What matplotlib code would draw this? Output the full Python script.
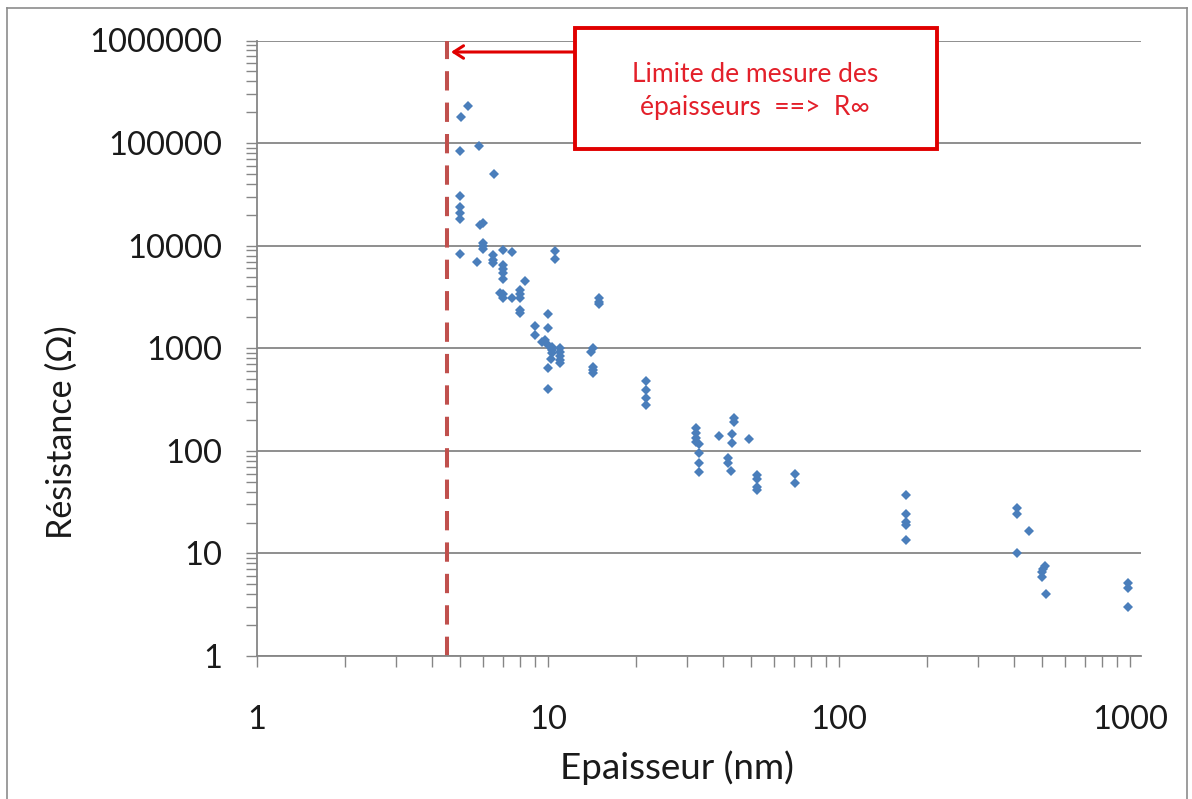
import matplotlib
matplotlib.use("Agg")
import matplotlib.pyplot as plt
from matplotlib.patches import Rectangle
from matplotlib.lines import Line2D
from matplotlib.ticker import NullFormatter, LogLocator

plt.rcParams['font.family'] = ['Lato', 'DejaVu Sans']

# Data: thickness (nm) vs resistance (Ohm)
epaisseur = [5.32, 5.01, 5.8, 5.0, 6.5, 5.0, 5.0, 5.0, 5.0, 5.83, 5.98, 5.98, 5.98, 5.98,
             5.0, 5.69, 6.49, 6.49, 6.49, 7.02, 7.5, 7.02, 7.02, 7.02, 7.02, 8.34, 6.84,
             7.02, 7.02, 7.5, 8.01, 8.01, 8.01, 8.01, 8.01, 10.6, 10.6, 9.02, 9.02, 10.0,
             10.0, 9.5, 9.77, 10.0, 10.3, 10.3, 10.3, 10.2, 10.0, 10.0, 11.0, 11.0, 11.0,
             11.0, 11.0, 14.3, 14.0, 14.3, 14.3, 14.3, 15.0, 15.0, 15.0, 21.8, 21.8, 21.8,
             21.8, 32.2, 32.2, 32.2, 32.2, 33.0, 33.0, 33.0, 33.0, 38.7, 42.8, 42.8, 43.5,
             43.5, 41.5, 41.5, 42.5, 49.2, 52.4, 52.4, 52.4, 52.4, 70.6, 70.6, 169.5, 169.5,
             169.5, 169.5, 169.5, 410, 410, 450, 410, 510, 503, 497, 497, 513, 986, 986, 986]
resistance = [229000, 178000, 93600, 83000, 50000, 30400, 23800, 21000, 18000, 15900, 16700,
              10700, 9900, 9200, 8280, 6870, 8090, 7240, 6720, 9060, 8700, 6460, 5870, 5450,
              4720, 4550, 3480, 3350, 3100, 3100, 3690, 3375, 3060, 2360, 2220, 8900, 7400,
              1660, 1345, 2140, 1590, 1157, 1200, 1075, 1035, 960, 890, 780, 637, 398, 997,
              925, 840, 767, 713, 997, 925, 660, 613, 569, 3060, 2840, 2700, 479, 391, 325,
              280, 166, 148, 134, 123, 116, 94.6, 75.5, 62.5, 140, 145, 118, 207, 192, 85,
              76, 63.6, 130, 58, 52.7, 44, 41.5, 59, 49, 37, 24.2, 20.4, 18.9, 13.5, 27.5,
              24.0, 16.5, 10.0, 7.5, 7.1, 6.6, 5.9, 4.0, 5.1, 4.6, 3.0]

limite_x = 4.5
x_ticks = [1, 10, 100, 1000]
x_ticklabels = ['1', '10', '100', '1000']
y_ticks = [1, 10, 100, 1000, 10000, 100000, 1000000]
y_ticklabels = ['1', '10', '100', '1000', '10000', '100000', '1000000']
annotation_text = "Limite de mesure des\népaisseurs  ==>  R\u221e"
xlabel = "Epaisseur (nm)"
ylabel = "Résistance (Ω)"

W, H = 1192, 799
fig = plt.figure(figsize=(W / 100, H / 100), dpi=100)
fig.patch.set_facecolor('white')

def fx(px):
    return px / W

def fy(py):
    return 1 - py / H

ax = fig.add_axes([fx(257), fy(656), fx(1141) - fx(257), fy(40.5) - fy(656)])
ax.set_xscale('log')
ax.set_yscale('log')
ax.set_xlim(1, 1091)
ax.set_ylim(1, 1e6)

grey = '#868686'
ax.set_xticks(x_ticks)
ax.set_xticklabels(x_ticklabels)
ax.set_yticks(y_ticks)
ax.set_yticklabels(y_ticklabels)
ax.xaxis.set_minor_locator(LogLocator(base=10, subs=range(2, 10), numticks=20))
ax.yaxis.set_minor_locator(LogLocator(base=10, subs=range(2, 10), numticks=20))
ax.xaxis.set_minor_formatter(NullFormatter())
ax.yaxis.set_minor_formatter(NullFormatter())

ax.yaxis.grid(True, which='major', color=grey, lw=1.3)
ax.set_axisbelow(True)
for s in ['top', 'right']:
    ax.spines[s].set_visible(False)
for s in ['left', 'bottom']:
    ax.spines[s].set_color(grey)
    ax.spines[s].set_linewidth(1.3)

ax.tick_params(axis='both', which='both', direction='out', length=8, width=1,
               color=grey, labelcolor='#1a1a1a', labelsize=23.5)
ax.tick_params(axis='y', which='both', pad=17)
ax.tick_params(axis='x', which='both', pad=27)

ax.plot(epaisseur, resistance, linestyle='none', marker='D', markersize=4.8,
        color='#4A7EBB', markeredgewidth=0, zorder=3)

ax.axvline(limite_x, color='#C0504D', lw=2.9, dashes=(4.8, 3.0), zorder=2)

# axis titles
fig.text(fx(677), fy(768), xlabel, ha='center', va='center', fontsize=26.5, color='#1a1a1a')
fig.text(fx(62), fy(432), ylabel, ha='center', va='center', rotation=90,
         fontsize=24.5, color='#1a1a1a')

# annotation box
box = Rectangle((fx(575), fy(149)), fx(937) - fx(575), fy(28) - fy(149),
                transform=fig.transFigure, fill=True, facecolor='white',
                edgecolor='#E00000', lw=2.8, zorder=5)
fig.add_artist(box)
fig.text(fx(755), fy(91), annotation_text, ha='center', va='center', fontsize=19,
         color='#E3202A', linespacing=1.45, zorder=6)

# arrow
ax.annotate('', xy=(fx(451), fy(52)), xytext=(fx(575), fy(52)),
            xycoords='figure fraction', textcoords='figure fraction',
            arrowprops=dict(arrowstyle='->,head_length=0.7,head_width=0.45',
                            color='#E00000', lw=2.2, shrinkA=0, shrinkB=0),
            annotation_clip=False)

# outer frame
for xs, ys in [([fx(7), fx(7)], [fy(8), -0.01]),
               ([fx(7), fx(1187)], [fy(8), fy(8)]),
               ([fx(1187), fx(1187)], [fy(8), -0.01])]:
    fig.add_artist(Line2D(xs, ys, transform=fig.transFigure, color='#8c8c8c', lw=1.2))

fig.savefig('out.png', dpi=100)
